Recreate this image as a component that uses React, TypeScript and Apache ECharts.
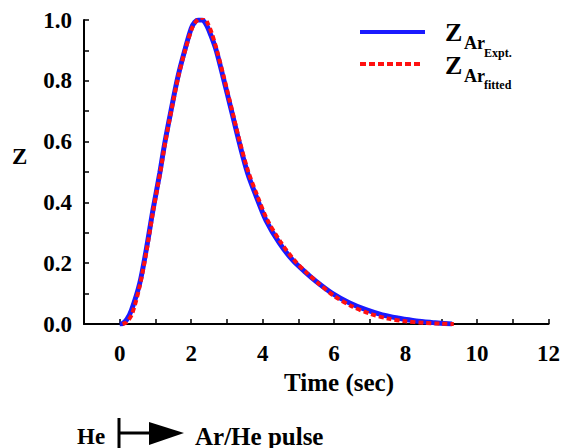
import React, { useEffect, useRef } from "react";
import * as echarts from "echarts";

const tExpt = [0.0, 0.09, 0.2, 0.33, 0.56, 0.74, 0.93, 1.12, 1.26, 1.44, 1.63, 1.82, 2.0, 2.1, 2.2, 2.3, 2.42, 2.55, 2.7, 2.89, 3.12, 3.35, 3.58, 3.82, 4.09, 4.47, 4.84, 5.2, 5.5, 5.96, 6.42, 6.89, 7.35, 7.82, 8.3, 8.75, 9.3];
const zExpt = [0.0, 0.002, 0.015, 0.046, 0.134, 0.243, 0.375, 0.496, 0.595, 0.705, 0.814, 0.9, 0.972, 0.993, 1.0, 1.0, 0.985, 0.95, 0.9, 0.814, 0.705, 0.595, 0.496, 0.42, 0.342, 0.266, 0.21, 0.17, 0.14, 0.1, 0.07, 0.047, 0.03, 0.019, 0.01, 0.005, 0.0];

const tFit = [0.08, 0.2, 0.35, 0.56, 0.75, 0.94, 1.13, 1.27, 1.45, 1.64, 1.83, 2.02, 2.12, 2.23, 2.35, 2.46, 2.58, 2.72, 2.91, 3.14, 3.37, 3.6, 3.84, 4.12, 4.5, 4.87, 5.22, 5.55, 6.0, 6.5, 7.0, 7.5, 8.0, 8.5, 9.0, 9.35];
const zFit = [0.0, 0.006, 0.035, 0.125, 0.24, 0.375, 0.496, 0.595, 0.705, 0.814, 0.9, 0.972, 0.993, 1.005, 1.008, 0.99, 0.955, 0.9, 0.814, 0.705, 0.595, 0.5, 0.425, 0.345, 0.27, 0.212, 0.17, 0.135, 0.092, 0.058, 0.034, 0.018, 0.009, 0.004, 0.001, 0.0];

const xTickLabels = ["0", "2", "4", "6", "8", "10", "12"];
const yTickLabels = ["0.0", "0.2", "0.4", "0.6", "0.8", "1.0"];

const FONT = "Liberation Serif";

export default function App() {
  const ref = useRef<HTMLDivElement>(null);
  useEffect(() => {
    if (!ref.current) return;
    const chart = echarts.init(ref.current, undefined, { renderer: "svg" });
    const pairs = (t: number[], z: number[]) => t.map((v, i) => [v, z[i]]);
    chart.setOption({
      animation: false,
      backgroundColor: "#ffffff",
      textStyle: { fontFamily: FONT, fontWeight: "bold", color: "#000" },
      grid: { left: 84, right: 13, top: 20, bottom: 124 },
      xAxis: {
        type: "value",
        min: -1,
        max: 12,
        interval: 1,
        axisLine: { show: true, lineStyle: { color: "#000", width: 2 } },
        axisTick: { show: true, inside: true, length: 5, lineStyle: { color: "#000", width: 1.5 } },
        splitLine: { show: false },
        axisLabel: {
          margin: 18,
          fontFamily: FONT,
          fontWeight: "bold",
          fontSize: 23,
          color: "#000",
          formatter: (v: number) => {
            const s = String(Math.round(v));
            return xTickLabels.includes(s) ? s : "";
          },
        },
      },
      yAxis: {
        type: "value",
        min: 0,
        max: 1,
        interval: 0.1,
        axisLine: { show: true, onZero: false, lineStyle: { color: "#000", width: 2 } },
        axisTick: { show: true, inside: true, length: 5, lineStyle: { color: "#000", width: 1.5 } },
        splitLine: { show: false },
        axisLabel: {
          margin: 12,
          fontFamily: FONT,
          fontWeight: "bold",
          fontSize: 23,
          color: "#000",
          padding: [13, 0, 0, 0],
          formatter: (v: number) => {
            const s = v.toFixed(1);
            return yTickLabels.includes(s) ? s : "";
          },
        },
      },
      series: [
        {
          name: "Expt",
          type: "line",
          data: pairs(tExpt, zExpt),
          smooth: 0.3,
          showSymbol: false,
          lineStyle: { color: "#1a1aff", width: 5 },
          z: 2,
        },
        {
          name: "fitted",
          type: "line",
          data: pairs(tFit, zFit),
          smooth: 0.3,
          showSymbol: false,
          lineStyle: { color: "#ff1010", width: 4, type: [5, 3] },
          z: 3,
        },
      ],
      graphic: [
        { type: "line", shape: { x1: 360, y1: 32, x2: 425, y2: 32 }, style: { stroke: "#1a1aff", lineWidth: 4 } },
        { type: "line", shape: { x1: 360, y1: 64, x2: 423, y2: 64 }, style: { stroke: "#ff1010", lineWidth: 4, lineDash: [6, 3] } },
        { type: "text", x: 445, y: 32, style: { text: "Z", font: `bold 26px ${FONT}`, fill: "#000", verticalAlign: "middle" } },
        { type: "text", x: 464, y: 43, style: { text: "Ar", font: `bold 18px ${FONT}`, fill: "#000", verticalAlign: "middle" } },
        { type: "text", x: 484, y: 53, style: { text: "Expt.", font: `bold 12px ${FONT}`, fill: "#000", verticalAlign: "middle" } },
        { type: "text", x: 445, y: 65, style: { text: "Z", font: `bold 26px ${FONT}`, fill: "#000", verticalAlign: "middle" } },
        { type: "text", x: 464, y: 76, style: { text: "Ar", font: `bold 18px ${FONT}`, fill: "#000", verticalAlign: "middle" } },
        { type: "text", x: 484, y: 85, style: { text: "fitted", font: `bold 12px ${FONT}`, fill: "#000", verticalAlign: "middle" } },
        { type: "text", x: 12, y: 156, style: { text: "Z", font: `bold 23px ${FONT}`, fill: "#000", verticalAlign: "middle" } },
        { type: "text", x: 339, y: 382, style: { text: "Time (sec)", font: `bold 25px ${FONT}`, fill: "#000", align: "center", verticalAlign: "middle" } },
        { type: "text", x: 77, y: 436, style: { text: "He", font: `bold 23px ${FONT}`, fill: "#000", verticalAlign: "middle" } },
        { type: "line", shape: { x1: 119, y1: 418, x2: 119, y2: 448 }, style: { stroke: "#000", lineWidth: 3 } },
        { type: "line", shape: { x1: 119, y1: 433, x2: 152, y2: 433 }, style: { stroke: "#000", lineWidth: 3 } },
        { type: "polygon", shape: { points: [[149, 422], [184, 433], [149, 445]] }, style: { fill: "#000" } },
        { type: "text", x: 195, y: 436, style: { text: "Ar/He pulse", font: `bold 25px ${FONT}`, fill: "#000", verticalAlign: "middle" } },
      ],
    });
    return () => chart.dispose();
  }, []);
  return (
    <div
      ref={ref}
      style={{ position: "fixed", left: 0, top: 0, width: 563, height: 448, background: "#fff" }}
    />
  );
}
